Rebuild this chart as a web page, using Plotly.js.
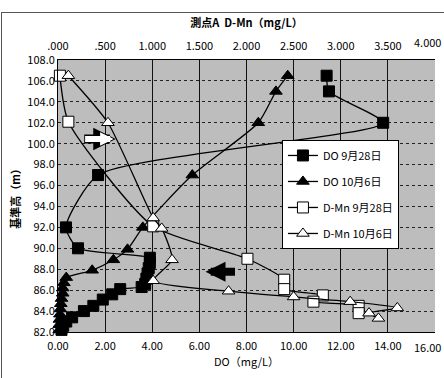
<!DOCTYPE html>
<html>
<head>
<meta charset="utf-8">
<script src="https://cdn.plot.ly/plotly-3.0.1.min.js"></script>
<style>
  html, body { margin: 0; padding: 0; background: #fff; }
  #wrap { position: relative; width: 444px; height: 378px; overflow: hidden; }
  #chart { width: 444px; height: 378px; }
  #frame { position: absolute; left: 1px; top: 12px; width: 460px; height: 400px;
           border: 1px solid #555; pointer-events: none; }
</style>
</head>
<body>
<div id="wrap">
  <div id="chart"></div>
  <div id="frame"></div>
</div>
<script>
// ---- data ----
// DO 9月28日 : depth (m) and DO (mg/L)
const doSep28Depth = [106.5, 105.0, 102.0, 97.0, 92.0, 90.0, 89.1, 88.6, 88.1, 87.6, 87.1, 86.6, 86.3, 86.1, 85.6, 85.1, 84.5, 84.0, 83.4, 83.0, 82.6, 82.2];
const doSep28Val   = [11.4, 11.5, 13.8, 1.7, 0.34, 0.85, 3.9, 3.9, 3.85, 3.8, 3.75, 3.7, 3.55, 2.64, 2.3, 1.9, 1.5, 1.1, 0.6, 0.35, 0.22, 0.15];
// DO 10月6日
const doOct6Depth = [106.5, 105.0, 102.0, 97.0, 92.0, 89.9, 88.9, 87.9, 87.2, 86.7, 86.2, 85.7, 85.2, 84.7, 84.2, 83.7, 83.2, 82.7, 82.2];
const doOct6Val   = [9.75, 9.25, 8.5, 5.7, 3.6, 2.95, 2.35, 1.45, 0.35, 0.25, 0.2, 0.2, 0.15, 0.12, 0.1, 0.08, 0.06, 0.05, 0.05];
// D-Mn 9月28日
const mnSep28Depth = [106.5, 102.1, 92.1, 89.0, 87.0, 86.1, 85.5, 84.9, 84.5, 83.8];
const mnSep28Val   = [0.02, 0.11, 1.01, 2.01, 2.4, 2.4, 2.81, 2.71, 3.19, 3.19];
// D-Mn 10月6日
const mnOct6Depth = [106.5, 102.0, 92.9, 91.9, 88.9, 86.9, 85.9, 85.35, 84.9, 84.3, 83.8, 83.3];
const mnOct6Val   = [0.11, 0.53, 1.01, 1.1, 1.21, 1.01, 1.81, 2.5, 3.1, 3.6, 3.3, 3.4];

// tick labels
const mnTickVals = [0, 0.5, 1, 1.5, 2, 2.5, 3, 3.5];
const mnTickText = ['.000', '.500', '1.000', '1.500', '2.000', '2.500', '3.000', '3.500'];
const mnLastTick = '4.000';
const doLastTick = '16.00';

const FONT = '"Noto Sans CJK JP", "Liberation Sans", sans-serif';

function series(name, xs, ys, xaxis, symbol, filled, group) {
  return {
    type: 'scatter', mode: 'lines+markers', name: name,
    x: xs, y: ys, xaxis: xaxis, yaxis: 'y',
    legendgroup: group, cliponaxis: false,
    line: { color: '#000', width: 1.3, shape: 'spline', smoothing: 0.6 },
    marker: { symbol: symbol, size: 11, color: filled ? '#000' : '#fff',
              line: { color: '#000', width: 1 } }
  };
}

const traces = [
  series('DO 9月28日', doSep28Val, doSep28Depth, 'x', 'square', true, 'g1'),
  series('DO 10月6日', doOct6Val, doOct6Depth, 'x', 'triangle-up', true, 'g2'),
  series('D-Mn 9月28日', mnSep28Val, mnSep28Depth, 'x2', 'square', false, 'g3'),
  series('D-Mn 10月6日', mnOct6Val, mnOct6Depth, 'x2', 'triangle-up', false, 'g4')
];

const layout = {
  width: 444, height: 378,
  margin: { l: 58, r: 9, t: 60, b: 46 },
  paper_bgcolor: '#fff', plot_bgcolor: '#bdbdbd',
  font: { family: FONT, size: 11, color: '#000' },
  showlegend: true,
  legend: {
    x: 0.594, y: 0.706, xanchor: 'left', yanchor: 'top',
    bgcolor: '#fff', bordercolor: '#000', borderwidth: 1,
    traceorder: 'grouped', tracegroupgap: 7,
    font: { family: FONT, size: 11, color: '#000' }
  },
  xaxis: {
    range: [0, 16], tickmode: 'linear', tick0: 0, dtick: 2, tickformat: '.2f',
    showgrid: true, gridcolor: '#111', gridwidth: 1,
    zeroline: false, showline: true, linecolor: '#000', mirror: false,
    ticks: '', ticklabelstandoff: 4,
    title: { text: 'DO（mg/L）', standoff: 4, font: { family: FONT, size: 11 } }
  },
  xaxis2: {
    overlaying: 'x', side: 'top', range: [0, 4],
    tickmode: 'array', tickvals: mnTickVals, ticktext: mnTickText,
    showgrid: false, zeroline: false, showline: true, linecolor: '#000',
    ticks: '', ticklabelstandoff: 5,
    title: { text: '<b>測点A  D-Mn（mg/L）</b>', standoff: 6, font: { family: FONT, size: 11 } }
  },
  yaxis: {
    range: [82, 108], dtick: 2, tickformat: '.1f',
    showgrid: true, gridcolor: '#222', gridwidth: 1, griddash: 'dot',
    zeroline: false, showline: true, linecolor: '#000', ticks: '',
    title: { text: '<b>基準高（m）</b>', standoff: 4, font: { family: FONT, size: 11 } }
  },
  annotations: [
    // last tick labels at the right edge (kept fully inside the page)
    { x: 1, y: 1, xref: 'paper', yref: 'paper', xshift: 8, yshift: 18, text: mnLastTick,
      showarrow: false, xanchor: 'right', yanchor: 'middle', font: { family: FONT, size: 11 } },
    { x: 1, y: 0, xref: 'paper', yref: 'paper', xshift: 8, yshift: -15, text: doLastTick,
      showarrow: false, xanchor: 'right', yanchor: 'middle', font: { family: FONT, size: 11 } },
    // outlined white arrow (pointing right)
    { x: 2.45, y: 100.45, xref: 'x', yref: 'y', ax: -33, ay: 0, axref: 'pixel', ayref: 'pixel',
      showarrow: true, arrowhead: 2, arrowsize: 0.5, arrowwidth: 9, arrowcolor: '#000', text: '' },
    { x: 2.36, y: 100.45, xref: 'x', yref: 'y', ax: -30, ay: 0, axref: 'pixel', ayref: 'pixel',
      showarrow: true, arrowhead: 2, arrowsize: 0.45, arrowwidth: 6, arrowcolor: '#fff', text: '' },
    // black arrow (pointing left)
    { x: 6.26, y: 87.75, xref: 'x', yref: 'y', ax: 31, ay: 0, axref: 'pixel', ayref: 'pixel',
      showarrow: true, arrowhead: 2, arrowsize: 0.5, arrowwidth: 8, arrowcolor: '#000', text: '' }
  ]
};

Plotly.newPlot('chart', traces, layout, { staticPlot: true, displayModeBar: false });
</script>
</body>
</html>
